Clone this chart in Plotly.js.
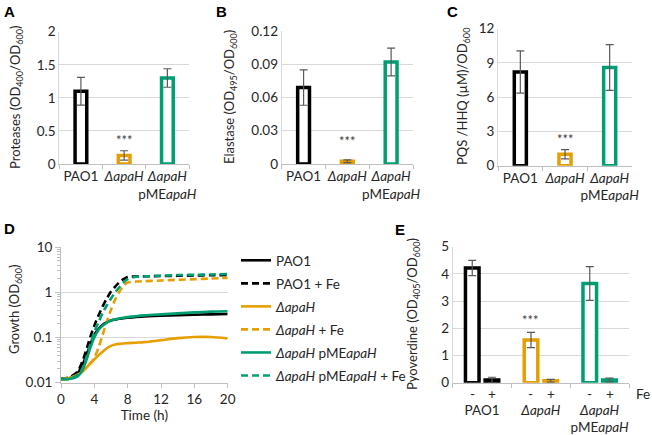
<!DOCTYPE html>
<html>
<head>
<meta charset="utf-8">
<script src="https://cdn.plot.ly/plotly-3.0.1.min.js"></script>
<style>html,body{margin:0;padding:0;background:#fff;}#chart{width:652px;height:435px;}</style>
</head>
<body>
<div id="chart"></div>
<script>
// ---- data ----
const strains = ["PAO1", "ΔapaH", "ΔapaH pMEapaH"];
const strainLabels = ["PAO1", "<i>ΔapaH</i>", "<i>ΔapaH</i><br>pME<i>apaH</i>"];
const strainColors = ["#000000", "#E69F00", "#009E73"];

const proteases = [1.10, 0.13, 1.30];
const proteasesErr = [0.21, 0.07, 0.14];
const elastase = [0.069, 0.0025, 0.092];
const elastaseErr = [0.016, 0.0013, 0.0125];
const pqs = [8.2, 1.0, 8.6];
const pqsErr = [1.85, 0.4, 2.0];

const pyoMinusFe = [4.22, 1.57, 3.65];
const pyoMinusFeErr = [0.28, 0.28, 0.62];
const pyoPlusFe = [0.10, 0.07, 0.10];
const pyoPlusFeErr = [0.10, 0.05, 0.07];
const feLabels = ["-", "+"];

const timeH = [0,1,2,2.5,3,3.5,4,4.5,5,5.5,6,6.5,7,7.5,8,9,10,12,14,16,18,20];
const growthPAO1 = [0.0121,0.0125,0.0162,0.023,0.0386,0.068,0.115,0.154,0.19,0.218,0.238,0.25,0.259,0.267,0.273,0.283,0.292,0.303,0.313,0.319,0.325,0.33];
const growthPAO1Fe = [0.0121,0.013,0.0177,0.0273,0.05,0.1,0.183,0.308,0.49,0.732,1.04,1.34,1.68,1.96,2.18,2.25,2.27,2.3,2.33,2.37,2.4,2.42];
const growthApaH = [0.0114,0.0125,0.0149,0.017,0.021,0.0263,0.0325,0.04,0.0484,0.0574,0.065,0.0697,0.072,0.0735,0.0746,0.0765,0.0786,0.087,0.0967,0.102,0.102,0.095];
const growthApaHFe = [0.0121,0.0125,0.0144,0.0171,0.021,0.026,0.0355,0.0593,0.115,0.226,0.414,0.695,1.035,1.39,1.65,1.74,1.77,1.83,1.9,1.96,2.03,2.1];
const growthComp = [0.012,0.012,0.0137,0.0177,0.0297,0.0574,0.1,0.146,0.183,0.214,0.238,0.252,0.264,0.274,0.282,0.296,0.308,0.325,0.342,0.36,0.373,0.38];
const growthCompFe = [0.012,0.012,0.0149,0.0194,0.0343,0.068,0.13,0.218,0.348,0.518,0.732,1.0,1.3,1.65,1.96,2.22,2.26,2.33,2.42,2.46,2.5,2.55];
const growthNames = ["PAO1", "PAO1 + Fe", "<i>ΔapaH</i>", "<i>ΔapaH</i> + Fe", "<i>ΔapaH</i> pME<i>apaH</i>", "<i>ΔapaH</i> pME<i>apaH</i> + Fe"];

// ---- helpers ----
const W = 652, H = 435;
const px = v => v / W;
const py = v => 1 - v / H;
const FONT = "Lato, 'Open Sans', sans-serif";
const TXT = "#262626";
const GRID = "#d9d9d9";
const AXL = "#bfbfbf";
const ERR = "#595959";
const FS = 13.5;

function barTrace(y, err, xa, ya) {
  return {
    type: "bar", x: strains, y: y, xaxis: xa, yaxis: ya, width: 0.27,
    marker: {color: "white", line: {color: strainColors, width: 3.5}},
    error_y: {type: "data", array: err, color: ERR, thickness: 1.2, width: 4},
    showlegend: false, hoverinfo: "x+y"
  };
}

const traces = [
  barTrace(proteases, proteasesErr, "x", "y"),
  barTrace(elastase, elastaseErr, "x2", "y2"),
  barTrace(pqs, pqsErr, "x3", "y3")
];

const growthSeries = [growthPAO1, growthPAO1Fe, growthApaH, growthApaHFe, growthComp, growthCompFe];
const growthColors = [strainColors[0], strainColors[0], strainColors[1], strainColors[1], strainColors[2], strainColors[2]];
growthSeries.forEach((s, i) => {
  traces.push({
    type: "scatter", mode: "lines", x: timeH, y: s, xaxis: "x4", yaxis: "y4",
    name: growthNames[i], legendgroup: "g" + i,
    line: {color: growthColors[i], width: 2.6, shape: "spline", smoothing: 0.8, dash: (i % 2 === 1) ? "7px,4px" : "solid"}
  });
});

traces.push({
  type: "bar", x: strains, y: pyoMinusFe, xaxis: "x5", yaxis: "y5", name: "-",
  marker: {color: "white", line: {color: strainColors, width: 3.5}},
  error_y: {type: "data", array: pyoMinusFeErr, color: ERR, thickness: 1.2, width: 4},
  showlegend: false
});
traces.push({
  type: "bar", x: strains, y: pyoPlusFe, xaxis: "x5", yaxis: "y5", name: "+",
  marker: {color: "white", line: {color: strainColors, width: 3.5}},
  error_y: {type: "data", array: pyoPlusFeErr, color: ERR, thickness: 1.2, width: 4},
  showlegend: false
});

function catX(d0, d1, anchor, extra) {
  return Object.assign({
    domain: [px(d0), px(d1)], anchor: anchor, type: "category",
    tickvals: strains, ticktext: strainLabels, tickangle: 0,
    showline: true, linecolor: AXL, linewidth: 1,
    ticks: "outside", tickson: "boundaries", ticklen: 4, tickcolor: AXL,
    showgrid: false, zeroline: false, fixedrange: true,
    tickfont: {size: FS, color: TXT}
  }, extra || {});
}
function linY(t0, t1, anchor, range, dtick, extra) {
  return Object.assign({
    domain: [py(t1), py(t0)], anchor: anchor, range: range, dtick: dtick,
    showgrid: true, gridcolor: GRID, gridwidth: 1,
    showline: true, linecolor: GRID, linewidth: 1,
    ticks: "", zeroline: false, fixedrange: true,
    tickfont: {size: FS, color: TXT}
  }, extra || {});
}

const layout = {
  width: W, height: H,
  margin: {l: 0, r: 0, t: 0, b: 0},
  paper_bgcolor: "white", plot_bgcolor: "white",
  font: {family: FONT, size: FS, color: TXT},
  barmode: "group", bargap: 0.33, bargroupgap: 0.31,
  showlegend: true,
  legend: {
    x: px(236), y: py(245), xanchor: "left", yanchor: "top",
    font: {size: FS, color: TXT}, tracegroupgap: 2.5, bgcolor: "rgba(0,0,0,0)"
  },
  xaxis: catX(59.3, 189, "y"),
  yaxis: linY(31.7, 164, "x", [0, 2], 0.5),
  xaxis2: catX(281.7, 413, "y2"),
  yaxis2: linY(31, 164, "x2", [0, 0.12], 0.03, {tickvals: [0, 0.03, 0.06, 0.09, 0.12], ticktext: ["0", "0.03", "0.06", "0.09", "0.12"]}),
  xaxis3: catX(498, 632, "y3"),
  yaxis3: linY(28.7, 165.7, "x3", [0, 12], 3),
  xaxis4: {
    domain: [px(61), px(227.7)], anchor: "y4", range: [0, 20], dtick: 4, tickangle: 0,
    showline: true, linecolor: AXL, ticks: "outside", ticklen: 4, tickcolor: AXL,
    showgrid: false, zeroline: false, fixedrange: true,
    tickfont: {size: FS, color: TXT},
    title: {text: "Time (h)", font: {size: FS, color: TXT}, standoff: 4}
  },
  yaxis4: {
    domain: [py(382.5), py(247.3)], anchor: "x4", type: "log", range: [-2, 1],
    dtick: 1, exponentformat: "none",
    showgrid: true, gridcolor: GRID, showline: true, linecolor: AXL,
    ticks: "outside", ticklen: 5, tickcolor: AXL, zeroline: false, fixedrange: true,
    minor: {ticks: "outside", ticklen: 3, tickcolor: AXL, showgrid: false, dtick: "D1"},
    tickfont: {size: FS, color: TXT}
  },
  xaxis5: catX(452.7, 629, "y5", {ticklabelstandoff: 15}),
  yaxis5: linY(246.7, 382.7, "x5", [0, 5], 1),
  annotations: [],
};

const ann = layout.annotations;
// panel letters
[["A", 9, 11], ["B", 222, 11], ["C", 452, 11], ["D", 9, 228], ["E", 400, 229]].forEach(([t, x, y]) => {
  ann.push({text: "<b>" + t + "</b>", x: px(x), y: py(y), xref: "paper", yref: "paper", showarrow: false,
    xanchor: "center", yanchor: "middle", font: {family: "'Liberation Sans', Arial, sans-serif", size: 15, color: "#000"}});
});
// y-axis titles
[["Proteases (OD<sub>400</sub>/OD<sub>600</sub>)", 16, 97],
 ["Elastase (OD<sub>495</sub>/OD<sub>600</sub>)", 230, 97],
 ["PQS /HHQ (µM)/OD<sub>600</sub>", 463, 97],
 ["Growth (OD<sub>600</sub>)", 15, 310],
 ["Pyoverdine (OD<sub>405</sub>/OD<sub>600</sub>)", 413, 314]].forEach(([t, x, y]) => {
  ann.push({text: t, x: px(x), y: py(y), xref: "paper", yref: "paper", showarrow: false, textangle: -90,
    xanchor: "center", yanchor: "middle", font: {size: 13, color: TXT}});
});
// significance stars
[["x", "y", 0.36], ["x2", "y2", 0.021], ["x3", "y3", 2.3], ["x5", "y5", 2.3]].forEach(([xa, ya, v]) => {
  ann.push({text: "***", x: strains[1], y: v, xref: xa, yref: ya, showarrow: false, xshift: xa === "x5" ? -10 : 0,
    xanchor: "center", yanchor: "middle", font: {size: 13, color: "#404040"}});
});
// Fe -/+ labels
strains.forEach(s => {
  feLabels.forEach((f, j) => {
    ann.push({text: f, x: s, y: py(394), xref: "x5", yref: "paper", showarrow: false, xshift: j === 0 ? -10 : 10,
      xanchor: "center", yanchor: "middle", font: {size: FS, color: TXT}});
  });
});
ann.push({text: "Fe", x: px(643), y: py(394), xref: "paper", yref: "paper", showarrow: false,
  xanchor: "center", yanchor: "middle", font: {size: FS, color: TXT}});

Plotly.newPlot("chart", traces, layout, {displayModeBar: false, staticPlot: true});
</script>
</body>
</html>
